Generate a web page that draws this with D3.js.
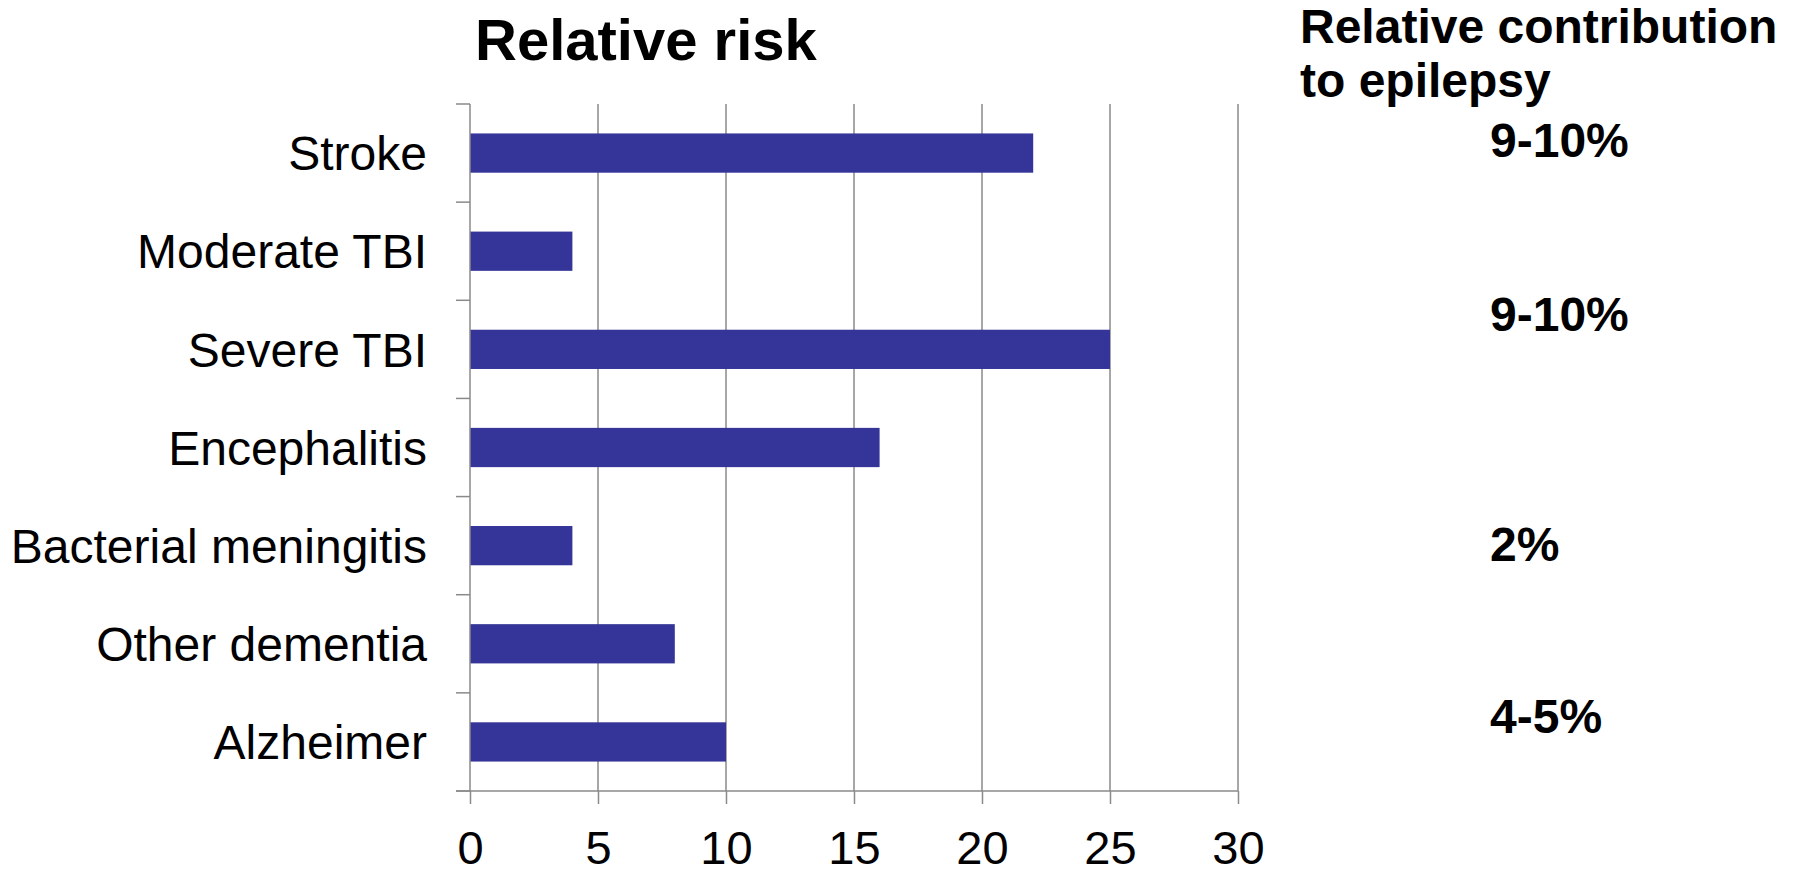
<!DOCTYPE html>
<html>
<head>
<meta charset="utf-8">
<script src="https://cdn.jsdelivr.net/npm/d3@7"></script>
<style>
  html, body { margin: 0; padding: 0; background: #fff; }
  svg { display: block; font-family: "Liberation Sans", Arial, sans-serif; }
</style>
</head>
<body>
<svg id="chart" width="1797" height="873"></svg>
<script>
// ---- data ----
const categories = ["Stroke", "Moderate TBI", "Severe TBI", "Encephalitis",
                    "Bacterial meningitis", "Other dementia", "Alzheimer"];
const relativeRisk = [22, 4, 25, 16, 4, 8, 10];
const xTicks = [0, 5, 10, 15, 20, 25, 30];
const contributionLabels = ["9-10%", "9-10%", "2%", "4-5%"];
const chartTitle = "Relative risk";
const sideTitle = ["Relative contribution", "to epilepsy"];

// ---- layout ----
const plotLeft = 470, plotRight = 1238, plotTop = 104, plotBottom = 791;
const barColor = "#353599";
const gridColor = "#8a8a8a";

const svg = d3.select("#chart");

const x = d3.scaleLinear().domain([0, 30]).range([plotLeft, plotRight]);
const y = d3.scaleBand().domain(categories).range([plotTop, plotBottom])
  .paddingInner(0.6).paddingOuter(0.3);
const yEdge = d3.scaleBand().domain(categories).range([plotTop, plotBottom]).padding(0);

// vertical gridlines
svg.append("g").selectAll("line")
  .data(xTicks.filter(d => d > 0))
  .join("line")
  .attr("x1", d => x(d)).attr("x2", d => x(d))
  .attr("y1", plotTop).attr("y2", plotBottom)
  .attr("stroke", gridColor).attr("stroke-width", 1.5);

// bars
svg.append("g").selectAll("rect")
  .data(categories)
  .join("rect")
  .attr("x", x(0))
  .attr("y", d => y(d))
  .attr("width", (d, i) => x(relativeRisk[i]) - x(0))
  .attr("height", y.bandwidth())
  .attr("fill", barColor);

// x axis
const xAxis = d3.axisBottom(x).tickValues(xTicks).tickSize(13).tickPadding(27)
  .tickFormat(d3.format("d"));
const gx = svg.append("g").attr("transform", `translate(0,${plotBottom})`).call(xAxis);
gx.select(".domain").remove();
gx.selectAll(".tick line").attr("stroke", gridColor).attr("stroke-width", 1.5);
gx.selectAll(".tick text").attr("fill", "#000").attr("font-size", 47)
  .attr("font-family", "Liberation Sans, Arial, sans-serif");
gx.append("line").attr("x1", plotLeft - 14).attr("x2", plotRight)
  .attr("y1", 0).attr("y2", 0).attr("stroke", gridColor).attr("stroke-width", 1.5);

// y axis line + category boundary ticks
svg.append("line").attr("x1", plotLeft).attr("x2", plotLeft)
  .attr("y1", plotTop).attr("y2", plotBottom)
  .attr("stroke", gridColor).attr("stroke-width", 1.5);
const edges = categories.map(c => yEdge(c)).concat([plotBottom]);
svg.append("g").selectAll("line")
  .data(edges)
  .join("line")
  .attr("x1", plotLeft - 14).attr("x2", plotLeft)
  .attr("y1", d => d).attr("y2", d => d)
  .attr("stroke", gridColor).attr("stroke-width", 1.5);

// category labels
svg.append("g").selectAll("text")
  .data(categories)
  .join("text")
  .attr("x", plotLeft - 43)
  .attr("y", d => y(d) + y.bandwidth() / 2)
  .attr("dy", "0.36em")
  .attr("text-anchor", "end")
  .attr("font-size", 48)
  .attr("fill", "#000")
  .text(d => d);

// title
svg.append("text").attr("x", 475).attr("y", 60)
  .attr("font-size", 58).attr("font-weight", "bold").attr("fill", "#000")
  .text(chartTitle);

// side title
svg.append("g").selectAll("text")
  .data(sideTitle)
  .join("text")
  .attr("x", 1300)
  .attr("y", (d, i) => 43 + i * 54)
  .attr("font-size", 48).attr("font-weight", "bold").attr("fill", "#000")
  .text(d => d);

// contribution labels
const contribY = [157, 331, 561, 733];
svg.append("g").selectAll("text")
  .data(contributionLabels)
  .join("text")
  .attr("x", 1490)
  .attr("y", (d, i) => contribY[i])
  .attr("font-size", 48).attr("font-weight", "bold").attr("fill", "#000")
  .text(d => d);
</script>
</body>
</html>
